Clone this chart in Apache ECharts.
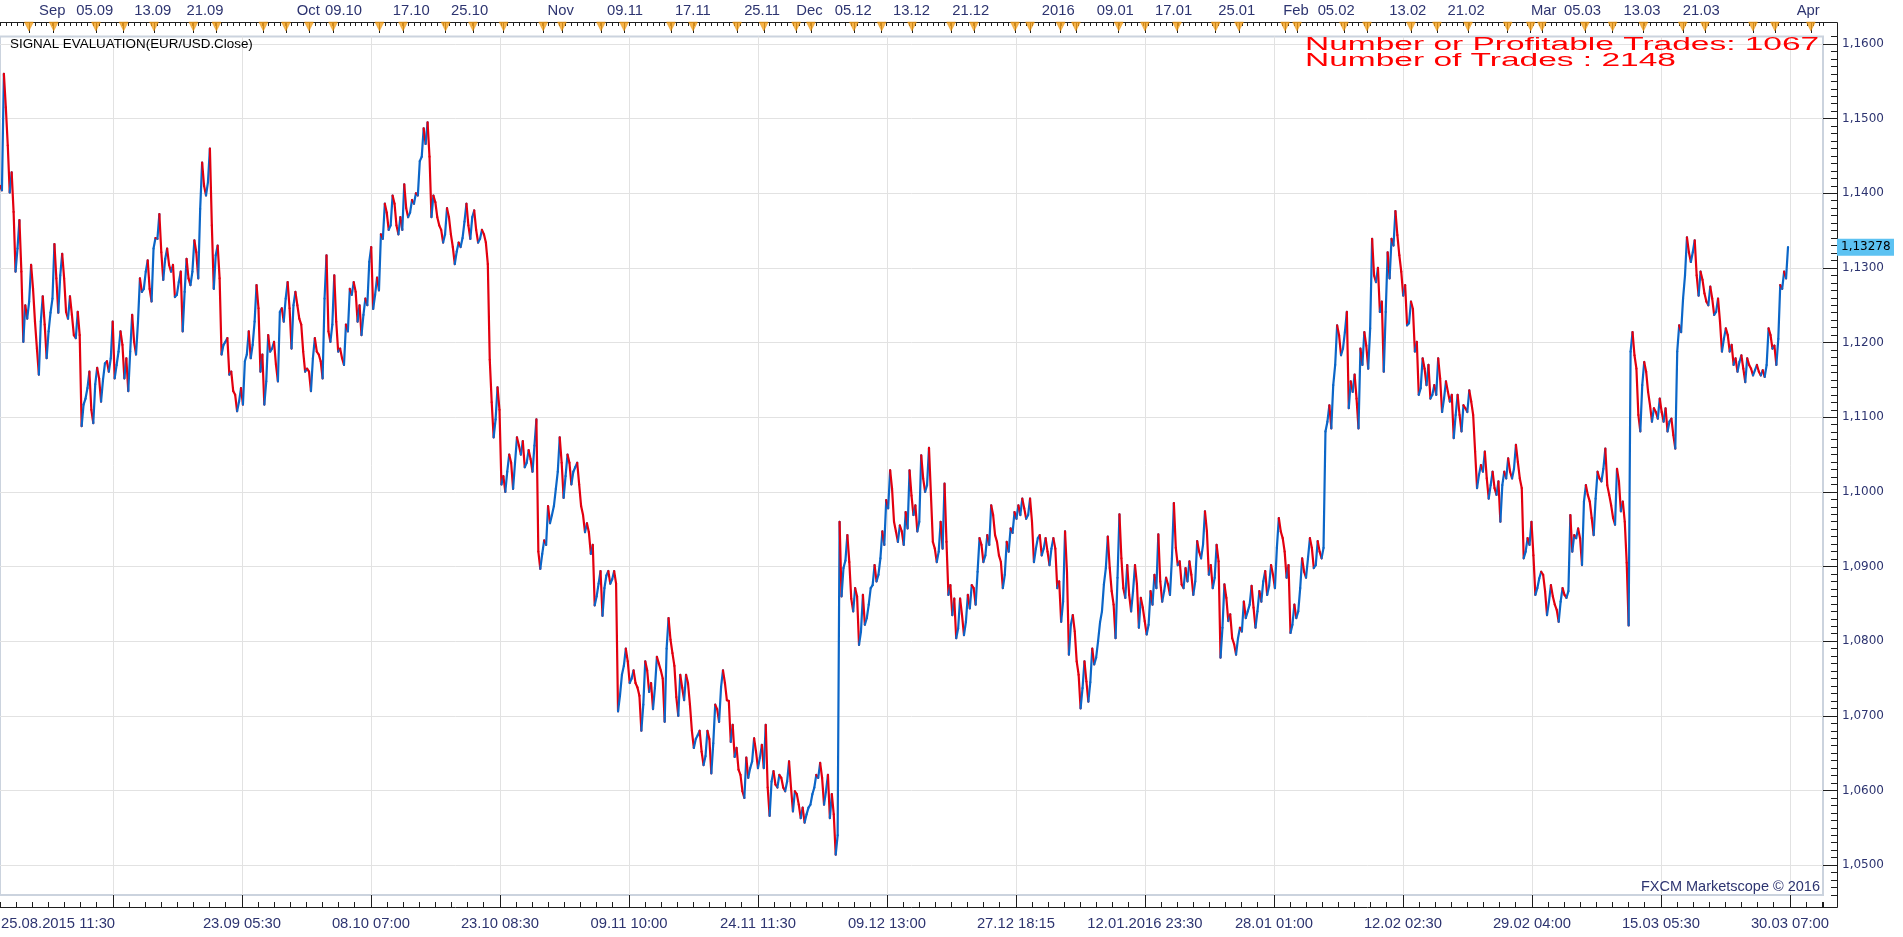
<!DOCTYPE html>
<html>
<head>
<meta charset="utf-8">
<script src="https://cdn.jsdelivr.net/npm/echarts@6/dist/echarts.min.js"></script>
<style>
html,body{margin:0;padding:0;background:#ffffff;}
#chart{width:1903px;height:937px;}
</style>
</head>
<body>
<div id="chart"></div>
<script>
// ---------------- DATA ----------------
// EUR/USD close. Bar 0 = 25.08.2015 11:30, one bar = 30 min.
// closeEven: bars 0,16,32,... ; closeOdd: bars 8,24,40,...
const HALF_STEP_BARS = 8;
const closeEven = [
1.1410,1.1560,1.1464,1.1428,1.1295,1.1364,1.1201,1.1232,1.1304,1.1228,
1.1157,1.1262,1.1179,1.1240,1.1332,1.1240,1.1319,1.1241,1.1262,1.1210,
1.1241,1.1088,1.1125,1.1161,1.1092,1.1166,1.1121,1.1172,1.1161,1.1228,
1.1170,1.1215,1.1152,1.1135,1.1237,1.1184,1.1286,1.1272,1.1310,1.1255,
1.1340,1.1372,1.1284,1.1326,1.1295,1.1261,1.1281,1.1215,1.1312,1.1277,
1.1337,1.1286,1.1441,1.1397,1.1460,1.1272,1.1330,1.1184,1.1201,1.1157,
1.1135,1.1108,1.1139,1.1175,1.1215,1.1197,1.1277,1.1161,1.1117,1.1210,
1.1192,1.1170,1.1241,1.1228,1.1281,1.1192,1.1268,1.1232,1.1188,1.1165,
1.1135,1.1206,1.1184,1.1152,1.1317,1.1201,1.1290,1.1188,1.1179,1.1224,
1.1272,1.1281,1.1228,1.1210,1.1259,1.1308,1.1245,1.1287,1.1345,1.1386,
1.1351,1.1397,1.1357,1.1368,1.1412,1.1368,1.1391,1.1400,1.1443,1.1487,
1.1495,1.1368,1.1388,1.1357,1.1334,1.1380,1.1345,1.1305,1.1334,1.1340,
1.1386,1.1339,1.1377,1.1334,1.1351,1.1334,1.1177,1.1073,1.1140,1.1010,
1.1000,1.1050,1.1004,1.1073,1.1050,1.1033,1.1056,1.1027,1.1097,1.0897,
1.0935,1.0981,1.0969,1.1004,1.1073,1.0992,1.1050,1.1010,1.1033,1.1010,
1.0969,1.0958,1.0917,1.0848,1.0877,1.0834,1.0888,1.0877,1.0894,1.0706,
1.0755,1.0790,1.0744,1.0761,1.0738,1.0680,1.0773,1.0732,1.0709,1.0779,
1.0761,1.0692,1.0831,1.0784,1.0725,1.0755,1.0721,1.0744,1.0680,1.0669,
1.0680,1.0634,1.0680,1.0623,1.0715,1.0692,1.0761,1.0721,1.0665,1.0645,
1.0628,1.0599,1.0644,1.0630,1.0670,1.0630,1.0661,1.0688,1.0566,1.0626,
1.0604,1.0617,1.0599,1.0639,1.0572,1.0595,1.0563,1.0557,1.0577,1.0595,
1.0621,1.0637,1.0581,1.0621,1.0595,1.0514,1.0960,1.0898,1.0942,1.0857,
1.0871,1.0795,1.0862,1.0831,1.0871,1.0902,1.0889,1.0947,1.0989,1.1029,
1.0960,1.0933,1.0947,1.0973,1.1029,1.0969,1.0947,1.1049,1.1000,1.1059,
1.0933,1.0906,1.0960,1.1011,1.0862,1.0835,1.0804,1.0857,1.0808,1.0862,
1.0875,1.0849,1.0938,1.0906,1.0942,1.0982,1.0942,1.0915,1.0871,1.0933,
1.0951,1.0973,1.0982,1.0991,1.0964,1.0991,1.0906,1.0938,1.0915,1.0938,
1.0902,1.0938,1.0871,1.0826,1.0947,1.0782,1.0835,1.0773,1.0710,1.0773,
1.0719,1.0790,1.0778,1.0825,1.0876,1.0940,1.0867,1.0804,1.0970,1.0871,
1.0902,1.0840,1.0902,1.0818,1.0845,1.0809,1.0867,1.0889,1.0943,1.0853,
1.0885,1.0862,1.0985,1.0902,1.0876,1.0898,1.0907,1.0862,1.0934,1.0911,
1.0974,1.0889,1.0871,1.0929,1.0778,1.0876,1.0827,1.0804,1.0782,1.0818,
1.0853,1.0840,1.0874,1.0818,1.0867,1.0880,1.0862,1.0902,1.0871,1.0965,
1.0938,1.0885,1.0811,1.0849,1.0840,1.0911,1.0885,1.0938,1.0898,1.0934,
1.0911,1.1081,1.1116,1.1143,1.1223,1.1183,1.1214,1.1112,1.1134,1.1125,
1.1192,1.1214,1.1165,1.1339,1.1281,1.1241,1.1161,1.1321,1.1339,1.1376,
1.1317,1.1263,1.1223,1.1255,1.1188,1.1130,1.1179,1.1143,1.1125,1.1143,
1.1179,1.1107,1.1148,1.1121,1.1072,1.1130,1.1081,1.1112,1.1136,1.1103,
1.1005,1.1036,1.1054,1.0991,1.1027,1.0996,1.0960,1.1027,1.1045,1.1018,
1.1063,1.1018,1.0911,1.0938,1.0960,1.0862,1.0884,1.0889,1.0835,1.0875,
1.0849,1.0826,1.0871,1.0858,1.0969,1.0942,1.0951,1.0902,1.1009,1.0987,
1.0942,1.1027,1.1014,1.1058,1.0996,1.0965,1.1031,1.0974,1.0960,1.0821,
1.1214,1.1165,1.1081,1.1174,1.1134,1.1094,1.1107,1.1125,1.1094,1.1081,
1.1098,1.1058,1.1223,1.1259,1.1341,1.1308,1.1337,1.1263,1.1284,1.1255,
1.1275,1.1237,1.1259,1.1188,1.1219,1.1188,1.1170,1.1161,1.1183,1.1147,
1.1170,1.1156,1.1170,1.1156,1.1154,1.1219,1.1192,1.1170,1.1277,1.1295,
1.1328
];
const closeOdd = [
1.1404,1.1515,1.1401,1.1375,1.1326,1.1295,1.1250,1.1255,1.1272,1.1192,
1.1228,1.1224,1.1215,1.1259,1.1286,1.1290,1.1286,1.1232,1.1237,1.1206,
1.1210,1.1117,1.1139,1.1110,1.1144,1.1152,1.1150,1.1175,1.1179,1.1152,
1.1188,1.1197,1.1179,1.1188,1.1201,1.1228,1.1268,1.1295,1.1272,1.1326,
1.1339,1.1321,1.1312,1.1304,1.1304,1.1264,1.1295,1.1268,1.1286,1.1295,
1.1321,1.1379,1.1410,1.1415,1.1357,1.1317,1.1286,1.1197,1.1206,1.1161,
1.1130,1.1121,1.1117,1.1184,1.1179,1.1228,1.1246,1.1184,1.1148,1.1188,
1.1201,1.1148,1.1246,1.1259,1.1246,1.1250,1.1250,1.1224,1.1161,1.1161,
1.1179,1.1188,1.1175,1.1259,1.1215,1.1224,1.1228,1.1192,1.1170,1.1215,
1.1264,1.1268,1.1250,1.1237,1.1250,1.1328,1.1264,1.1270,1.1339,1.1374,
1.1357,1.1386,1.1345,1.1351,1.1380,1.1374,1.1386,1.1397,1.1449,1.1466,
1.1449,1.1397,1.1368,1.1351,1.1345,1.1368,1.1328,1.1322,1.1328,1.1362,
1.1357,1.1368,1.1351,1.1339,1.1345,1.1305,1.1120,1.1097,1.1110,1.1021,
1.1027,1.1039,1.1039,1.1062,1.1068,1.1039,1.1044,1.1062,1.0920,1.0917,
1.0929,1.0958,1.0981,1.1027,1.1039,1.1021,1.1039,1.1027,1.1039,1.0981,
1.0946,1.0946,1.0929,1.0860,1.0894,1.0871,1.0894,1.0883,1.0877,1.0727,
1.0767,1.0773,1.0750,1.0744,1.0727,1.0715,1.0761,1.0744,1.0738,1.0770,
1.0750,1.0790,1.0802,1.0767,1.0700,1.0738,1.0755,1.0715,1.0657,1.0674,
1.0652,1.0646,1.0669,1.0663,1.0709,1.0738,1.0744,1.0720,1.0688,1.0657,
1.0621,1.0590,1.0617,1.0639,1.0652,1.0644,1.0630,1.0604,1.0612,1.0608,
1.0621,1.0604,1.0612,1.0604,1.0599,1.0581,1.0577,1.0568,1.0581,1.0604,
1.0617,1.0617,1.0599,1.0563,1.0568,1.0540,1.0860,1.0908,1.0906,1.0840,
1.0860,1.0813,1.0822,1.0849,1.0875,1.0880,1.0911,1.0929,1.0978,1.1004,
1.0947,1.0955,1.0929,1.0951,1.0995,1.0982,1.0960,1.1018,1.1009,1.0996,
1.0924,1.0920,1.0924,1.0933,1.0875,1.0857,1.0817,1.0835,1.0826,1.0844,
1.0871,1.0893,1.0929,1.0915,1.0929,1.0969,1.0933,1.0906,1.0889,1.0920,
1.0945,1.0964,1.0969,1.0978,1.0969,1.0960,1.0924,1.0942,1.0924,1.0920,
1.0924,1.0924,1.0880,1.0853,1.0893,1.0822,1.0813,1.0755,1.0737,1.0746,
1.0745,1.0769,1.0800,1.0840,1.0898,1.0898,1.0849,1.0885,1.0911,1.0858,
1.0862,1.0867,1.0876,1.0858,1.0827,1.0822,1.0849,1.0871,1.0880,1.0867,
1.0876,1.0911,1.0925,1.0907,1.0871,1.0880,1.0889,1.0880,1.0920,1.0929,
1.0947,1.0902,1.0885,1.0907,1.0818,1.0858,1.0836,1.0796,1.0804,1.0813,
1.0831,1.0849,1.0845,1.0840,1.0853,1.0894,1.0874,1.0889,1.0925,1.0947,
1.0920,1.0902,1.0822,1.0831,1.0871,1.0893,1.0911,1.0925,1.0902,1.0920,
1.0925,1.1094,1.1085,1.1170,1.1210,1.1192,1.1241,1.1148,1.1157,1.1085,
1.1170,1.1196,1.1219,1.1290,1.1300,1.1255,1.1241,1.1286,1.1330,1.1344,
1.1295,1.1277,1.1226,1.1245,1.1201,1.1139,1.1165,1.1170,1.1130,1.1130,
1.1152,1.1125,1.1134,1.1130,1.1103,1.1103,1.1116,1.1107,1.1121,1.1054,
1.1023,1.1027,1.1018,1.1009,1.1005,1.1014,1.1009,1.1018,1.1027,1.1031,
1.1040,1.1005,1.0920,1.0929,1.0915,1.0871,1.0893,1.0867,1.0853,1.0860,
1.0842,1.0853,1.0862,1.0867,1.0920,1.0938,1.0938,1.0987,1.0996,1.0965,
1.0991,1.1018,1.1031,1.1009,1.0982,1.0956,1.1014,1.0987,1.0905,1.1188,
1.1183,1.1103,1.1143,1.1161,1.1116,1.1112,1.1098,1.1107,1.1112,1.1094,
1.1076,1.1188,1.1214,1.1290,1.1321,1.1321,1.1290,1.1295,1.1266,1.1250,
1.1259,1.1241,1.1228,1.1205,1.1210,1.1197,1.1179,1.1174,1.1165,1.1179,
1.1165,1.1163,1.1161,1.1163,1.1170,1.1210,1.1196,1.1205,1.1272,1.1286
];
const lastPrice = 1.13278;

// bottom time axis (values in half-hour bars since start)
const axisEndBar = 7504;
const startLabel = '25.08.2015 11:30';
const bottomTickBars = [465,996,1527,2058,2589,3120,3651,4182,4713,5244,5775,6306,6837,7368];
const bottomTickLabels = ['','23.09 05:30','08.10 07:00','23.10 08:30','09.11 10:00','24.11 11:30','09.12 13:00','27.12 18:15','12.01.2016 23:30','28.01 01:00','12.02 02:30','29.02 04:00','15.03 05:30','30.03 07:00'];

// top calendar axis
const topLabelBars = [215,390,629,844,1269,1414,1693,1933,2308,2573,2852,3137,3332,3512,3752,3996,4356,4591,4831,5091,5335,5500,5795,6035,6354,6514,6759,7003,7443];
const topLabelTexts = ['Sep','05.09','13.09','21.09','Oct','09.10','17.10','25.10','Nov','09.11','17.11','25.11','Dec','05.12','13.12','21.12','2016','09.01','17.01','25.01','Feb','05.02','13.02','21.02','Mar','05.03','13.03','21.03','Apr'];
const eventMarkerBars = [119,221,395,509,634,796,891,1084,1177,1272,1371,1562,1659,1834,1947,2073,2236,2313,2474,2569,2762,2853,3034,3144,3277,3338,3515,3629,3754,3915,4009,4178,4240,4366,4429,4605,4713,4845,5004,5100,5290,5339,5532,5627,5808,5915,6043,6206,6301,6347,6524,6638,6765,6927,7018,7216,7306,7454];

// price axis
const priceTicks = [1.05,1.06,1.07,1.08,1.09,1.10,1.11,1.12,1.13,1.14,1.15,1.16];
const priceMin = 1.046, priceMax = 1.161;

const titleText = 'SIGNAL EVALUATION(EUR/USD.Close)';
const infoLines = ['Number or Profitable Trades: 1067', 'Number of Trades : 2148'];
const copyrightText = 'FXCM Marketscope \u00A9 2016';

// ---------------- STYLE ----------------
const UP_COLOR = '#0b66c8';
const DOWN_COLOR = '#e3000f';
const AXIS_DARK = '#1e1e1e';
const LABEL_COLOR = '#2d3470';
const GRID_LINE = '#e2e2e2';
const AX_FONT = 'Liberation Sans';

// ---------------- BUILD ----------------
const closeSeries = [];
for (let i = 0; i < closeEven.length; i++) {
  closeSeries.push(closeEven[i]);
  if (i < closeOdd.length) closeSeries.push(closeOdd[i]);
}
const segments = [];
for (let i = 0; i < closeSeries.length - 1; i++) {
  const x0 = i * HALF_STEP_BARS, x1 = (i + 1) * HALF_STEP_BARS;
  const y0 = closeSeries[i], y1 = closeSeries[i + 1];
  segments.push({ coords: [[x0, y0], [x1, y1]], lineStyle: { color: y1 >= y0 ? UP_COLOR : DOWN_COLOR } });
}
const bottomLabelMap = {};
bottomTickBars.forEach((b, i) => { bottomLabelMap[b] = bottomTickLabels[i]; });
const topLabelMap = {};
topLabelBars.forEach((b, i) => { topLabelMap[b] = topLabelTexts[i]; });

const chart = echarts.init(document.getElementById('chart'), null, { renderer: 'canvas' });

const option = {
  animation: false,
  backgroundColor: '#ffffff',
  grid: [
    { left: 0, right: 80, top: 36.5, bottom: 42, show: true, borderColor: '#cbd3de', borderWidth: 2, backgroundColor: 'transparent', outerBoundsMode: 'none', containLabel: false },
    { left: 0, right: 80, top: 22, height: 9, show: false, outerBoundsMode: 'none', containLabel: false }
  ],
  xAxis: [
    { // data axis + bottom minor ticks
      type: 'value', gridIndex: 0, min: 0, max: axisEndBar, position: 'bottom', offset: 12, interval: 531 / 8,
      axisLine: { show: true, onZero: false, lineStyle: { color: AXIS_DARK, width: 1 } },
      axisTick: { show: true, inside: true, length: 5, lineStyle: { color: AXIS_DARK } },
      axisLabel: { show: false }, splitLine: { show: false }
    },
    { // bottom major ticks, labels, grid lines
      type: 'value', gridIndex: 0, min: 0, max: axisEndBar, position: 'bottom', offset: 12,
      axisLine: { show: false, onZero: false },
      axisTick: { show: true, inside: true, length: 12, customValues: bottomTickBars, lineStyle: { color: AXIS_DARK } },
      axisLabel: { show: true, customValues: bottomTickBars.slice(1), margin: 9, color: LABEL_COLOR, fontSize: 14.8, fontFamily: AX_FONT,
        formatter: v => bottomLabelMap[Math.round(v)] || '' },
      splitLine: { show: true, lineStyle: { color: GRID_LINE, width: 1 } }
    },
    { // top minor ticks
      type: 'value', gridIndex: 0, min: 0, max: axisEndBar, position: 'top', offset: 14.5, interval: 24,
      axisLine: { show: true, onZero: false, lineStyle: { color: AXIS_DARK, width: 1 } },
      axisTick: { show: true, inside: true, length: 4, lineStyle: { color: AXIS_DARK } },
      axisLabel: { show: false }, splitLine: { show: false }
    },
    { // top labels + event ticks
      type: 'value', gridIndex: 0, min: 0, max: axisEndBar, position: 'top', offset: 14.5,
      axisLine: { show: false, onZero: false },
      axisTick: { show: true, inside: true, length: 11, customValues: eventMarkerBars, lineStyle: { color: AXIS_DARK } },
      axisLabel: { show: true, customValues: topLabelBars, margin: 4, color: LABEL_COLOR, fontSize: 14.8, fontFamily: AX_FONT,
        formatter: v => topLabelMap[Math.round(v)] || '' },
      splitLine: { show: false }
    },
    { type: 'value', gridIndex: 1, min: 0, max: axisEndBar, show: false }
  ],
  yAxis: [
    {
      type: 'value', gridIndex: 0, position: 'right', offset: 14, min: priceMin, max: priceMax,
      axisLine: { show: true, onZero: false, lineStyle: { color: AXIS_DARK, width: 1 } },
      axisTick: { show: true, inside: true, length: 14, customValues: priceTicks, lineStyle: { color: AXIS_DARK } },
      axisLabel: { show: true, customValues: priceTicks, margin: 5, color: LABEL_COLOR, fontSize: 12, fontFamily: 'DejaVu Sans',
        formatter: v => v.toFixed(4).replace('.', ',') },
      splitLine: { show: true, lineStyle: { color: GRID_LINE, width: 1 } }
    },
    {
      type: 'value', gridIndex: 0, position: 'right', offset: 14, min: priceMin, max: priceMax, interval: 0.001,
      axisLine: { show: false, onZero: false },
      axisTick: { show: true, inside: true, length: 6, lineStyle: { color: AXIS_DARK } },
      axisLabel: { show: false }, splitLine: { show: false }
    },
    { type: 'value', gridIndex: 1, min: 0, max: 1, show: false }
  ],
  series: [
    {
      type: 'lines', coordinateSystem: 'cartesian2d', xAxisIndex: 0, yAxisIndex: 0,
      data: segments, silent: true, z: 3,
      lineStyle: { width: 2.2, opacity: 1, cap: 'round' }
    },
    {
      type: 'scatter', xAxisIndex: 4, yAxisIndex: 2, silent: true, z: 4,
      data: eventMarkerBars.map(b => [b, 0.5]),
      symbol: 'triangle', symbolRotate: 180, symbolSize: [9, 9],
      itemStyle: { color: '#f6a11c', borderColor: '#e08a00', borderWidth: 0.5 }
    }
  ]
};
chart.setOption(option);

const yLast = chart.convertToPixel({ yAxisIndex: 0 }, lastPrice);
const x0px = chart.convertToPixel({ xAxisIndex: 0 }, 0);
chart.setOption({
  graphic: [
    { type: 'text', x: 10, y: 44, silent: true,
      style: { text: titleText, fill: '#000000', fontSize: 13.4, fontFamily: AX_FONT, align: 'left', verticalAlign: 'middle' } },
    { type: 'text', x: 1305, y: 45, scaleX: 1.86, silent: true,
      style: { text: infoLines[0], fill: '#ff0000', fontSize: 18, fontFamily: AX_FONT, align: 'left', verticalAlign: 'middle' } },
    { type: 'text', x: 1305, y: 61.5, scaleX: 1.86, silent: true,
      style: { text: infoLines[1], fill: '#ff0000', fontSize: 18, fontFamily: AX_FONT, align: 'left', verticalAlign: 'middle' } },
    { type: 'text', x: 1820, y: 887, silent: true,
      style: { text: copyrightText, fill: LABEL_COLOR, fontSize: 14.5, fontFamily: AX_FONT, align: 'right', verticalAlign: 'middle' } },
    { type: 'text', x: x0px + 1, y: 924, silent: true,
      style: { text: startLabel, fill: LABEL_COLOR, fontSize: 14.8, fontFamily: AX_FONT, align: 'left', verticalAlign: 'middle' } },
    { type: 'rect', shape: { x: 1837, y: yLast - 8.5, width: 57, height: 17 }, silent: true, z: 10,
      style: { fill: '#5cc2f2' } },
    { type: 'text', x: 1841, y: yLast, silent: true, z: 11,
      style: { text: lastPrice.toFixed(5).replace('.', ','), fill: '#000000', fontSize: 12, fontFamily: 'DejaVu Sans', align: 'left', verticalAlign: 'middle' } },
    { type: 'line', silent: true, shape: { x1: 1823, y1: 22.5, x2: 1837.5, y2: 22.5 }, style: { stroke: AXIS_DARK, lineWidth: 1 } },
    { type: 'line', silent: true, shape: { x1: 1837.5, y1: 22.5, x2: 1837.5, y2: 36.5 }, style: { stroke: AXIS_DARK, lineWidth: 1 } },
    { type: 'line', silent: true, shape: { x1: 1837.5, y1: 895, x2: 1837.5, y2: 907.5 }, style: { stroke: AXIS_DARK, lineWidth: 1 } },
    { type: 'line', silent: true, shape: { x1: 1823, y1: 907.5, x2: 1837.5, y2: 907.5 }, style: { stroke: AXIS_DARK, lineWidth: 1 } }
  ]
});
</script>
</body>
</html>
